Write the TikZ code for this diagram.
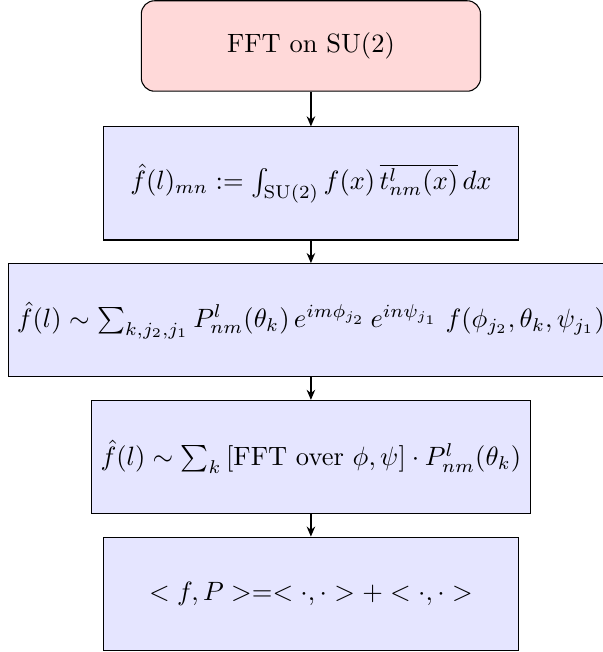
\documentclass[tikz,border=0pt]{standalone}
\usepackage{amsmath}
\usetikzlibrary{arrows.meta,positioning}

\begin{document}
\begin{tikzpicture}[>={Stealth[length=3.8pt,width=3.2pt]},
  stepbox/.style={draw, fill=blue!10, minimum width=5.5cm, minimum height=1.5cm, align=center},
  headbox/.style={draw, fill=red!15, rounded corners=5pt, minimum width=4.5cm, minimum height=1.2cm}]
\useasboundingbox (-4.125,0.61) rectangle (3.873,-8.04);
\node[headbox] (fft) {FFT on SU(2)};
\node[stepbox, below=0.46cm of fft] (def)
 {$\hat{f}(l)_{mn} := \int_{\mathrm{SU}(2)} f(x)\,\overline{t^{l}_{nm}(x)}\,dx$};
\node[stepbox, below=0.3cm of def] (sum)
 {$\hat{f}(l) \sim \sum_{k,j_2,j_1} P^{l}_{nm}(\theta_k)\,e^{im\phi_{j_2}}\,e^{in\psi_{j_1}}\;f(\phi_{j_2},\theta_k,\psi_{j_1})$};
\node[stepbox, below=0.3cm of sum] (split)
 {$\hat{f}(l) \sim \sum_{k}\,[\text{FFT over }\phi,\psi]\cdot P^{l}_{nm}(\theta_k)$};
\node[stepbox, below=0.3cm of split] (inner)
 {$< f, P > = < \cdot,\cdot > + < \cdot,\cdot >$};
% arrows
\draw[->, thick] (fft) -- (def);
\draw[->, thick] (def) -- (sum);
\draw[->, thick] (sum) -- (split);
\draw[->, thick] (split) -- (inner);
\end{tikzpicture}
\end{document}
